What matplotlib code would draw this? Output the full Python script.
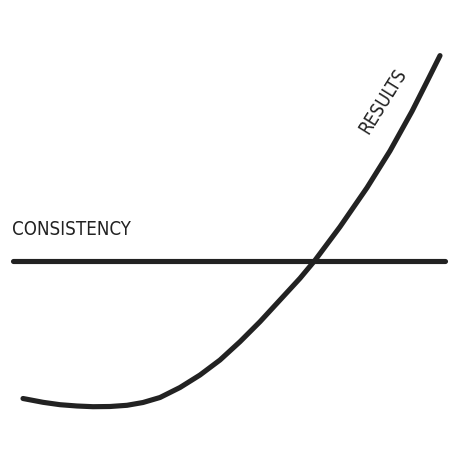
import matplotlib
matplotlib.use("Agg")
import matplotlib.pyplot as plt

results_x = [23, 43, 60, 77, 93, 110, 127, 143, 160, 180, 200, 220, 240, 260,
             280, 300, 315, 340, 367, 390, 412, 427, 440]
results_y = [60.5, 56.7, 54.3, 53, 52.3, 52.5, 53.7, 56.5, 61.5, 71.5, 84, 99,
             117.3, 137.3, 159, 180.7, 198.7, 232.2, 271.3, 308.1, 347.7, 377.4, 403.4]
consistency_x = [13, 445]
consistency_y = [198, 198]
labels = ["CONSISTENCY", "RESULTS"]

fig = plt.figure(figsize=(4.59, 4.59), dpi=100)
ax = fig.add_axes([0, 0, 1, 1])
ax.set_xlim(0, 459)
ax.set_ylim(0, 459)
ax.axis("off")

col = "#222222"
ax.plot(consistency_x, consistency_y, color=col, lw=3.7, solid_capstyle="round")
ax.plot(results_x, results_y, color=col, lw=3.7, solid_capstyle="round",
        solid_joinstyle="round", antialiased=True)

fam = ["DejaVu Sans"]
ax.text(12, 224, labels[0], fontsize=13.4, family=fam, fontstretch="condensed",
        color=col, ha="left", va="baseline")
ax.text(383, 358, labels[1], fontsize=13.4, family=fam, fontstretch="condensed",
        color=col, ha="center", va="center", rotation=58, rotation_mode="anchor")

fig.savefig("out.png", dpi=100)
